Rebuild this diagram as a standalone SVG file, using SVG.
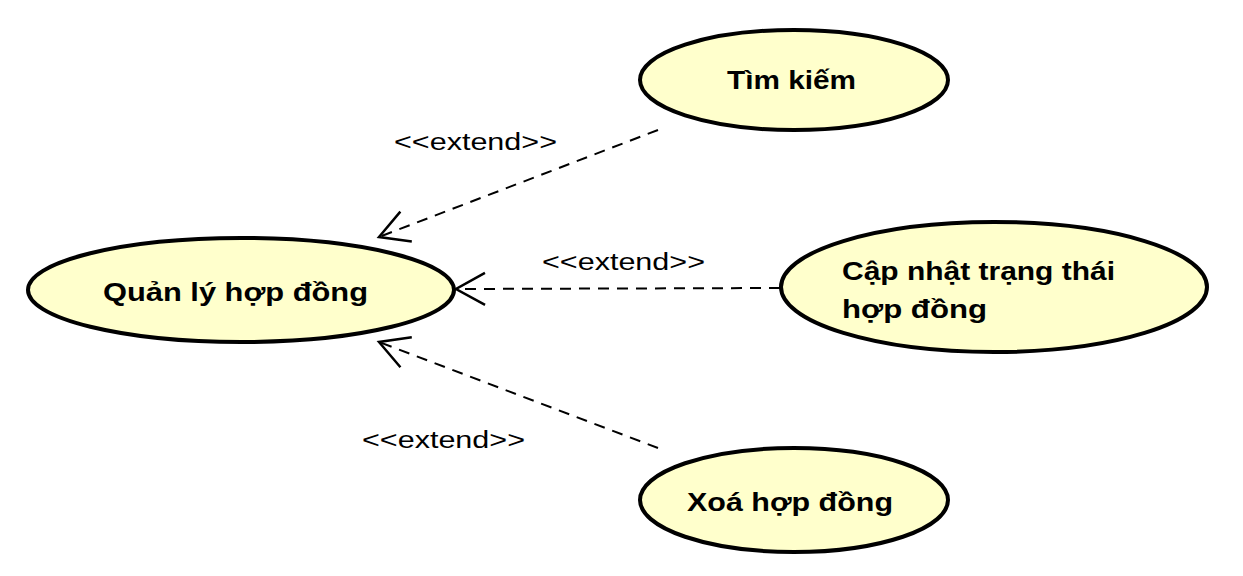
<svg xmlns="http://www.w3.org/2000/svg" width="1243" height="576" viewBox="0 0 1243 576">
<style>
.uc{fill:#ffffcc;stroke:#000;stroke-width:4}
.t{font-family:"Liberation Sans",Arial,sans-serif;font-weight:bold;font-size:26px;fill:#000}
.lbl{font-family:"Liberation Sans",Arial,sans-serif;font-size:23px;fill:#000}
.dep{fill:none;stroke:#000;stroke-width:2;stroke-dasharray:11 8}
</style>
<defs>
<marker id="open" markerUnits="userSpaceOnUse" markerWidth="40" markerHeight="40" refX="0" refY="0" orient="auto" overflow="visible">
<path d="M-29,-16 L0,0 L-29,16" fill="none" stroke="#000" stroke-width="2.5"/>
</marker>
</defs>
<rect width="1243" height="576" fill="#fff"/>
<g id="quanly">
<ellipse class="uc" cx="241" cy="290" rx="213" ry="52"/>
<text class="t" x="103" y="301" textLength="265" lengthAdjust="spacingAndGlyphs">Quản lý hợp đồng</text>
</g>
<g id="timkiem">
<ellipse class="uc" cx="794" cy="80" rx="154" ry="50"/>
<text class="t" x="727" y="89" textLength="129" lengthAdjust="spacingAndGlyphs">Tìm kiếm</text>
</g>
<g id="capnhat">
<ellipse class="uc" cx="994" cy="287" rx="213" ry="65"/>
<text class="t" x="842" y="280" textLength="273" lengthAdjust="spacingAndGlyphs">Cập nhật trạng thái</text>
<text class="t" x="842" y="318" textLength="145" lengthAdjust="spacingAndGlyphs">hợp đồng</text>
</g>
<g id="xoa">
<ellipse class="uc" cx="794" cy="500" rx="154" ry="52"/>
<text class="t" x="687" y="511" textLength="206" lengthAdjust="spacingAndGlyphs">Xoá hợp đồng</text>
</g>
<g id="connectors">
<line class="dep" x1="658" y1="130" x2="379" y2="237" marker-end="url(#open)"/>
<line class="dep" x1="780" y1="288" x2="456" y2="289" marker-end="url(#open)"/>
<line class="dep" x1="658" y1="448" x2="379" y2="342" marker-end="url(#open)"/>
<text class="lbl" x="394" y="150" textLength="163" lengthAdjust="spacingAndGlyphs">&lt;&lt;extend&gt;&gt;</text>
<text class="lbl" x="542" y="270" textLength="163" lengthAdjust="spacingAndGlyphs">&lt;&lt;extend&gt;&gt;</text>
<text class="lbl" x="362" y="448" textLength="163" lengthAdjust="spacingAndGlyphs">&lt;&lt;extend&gt;&gt;</text>
</g>
</svg>
